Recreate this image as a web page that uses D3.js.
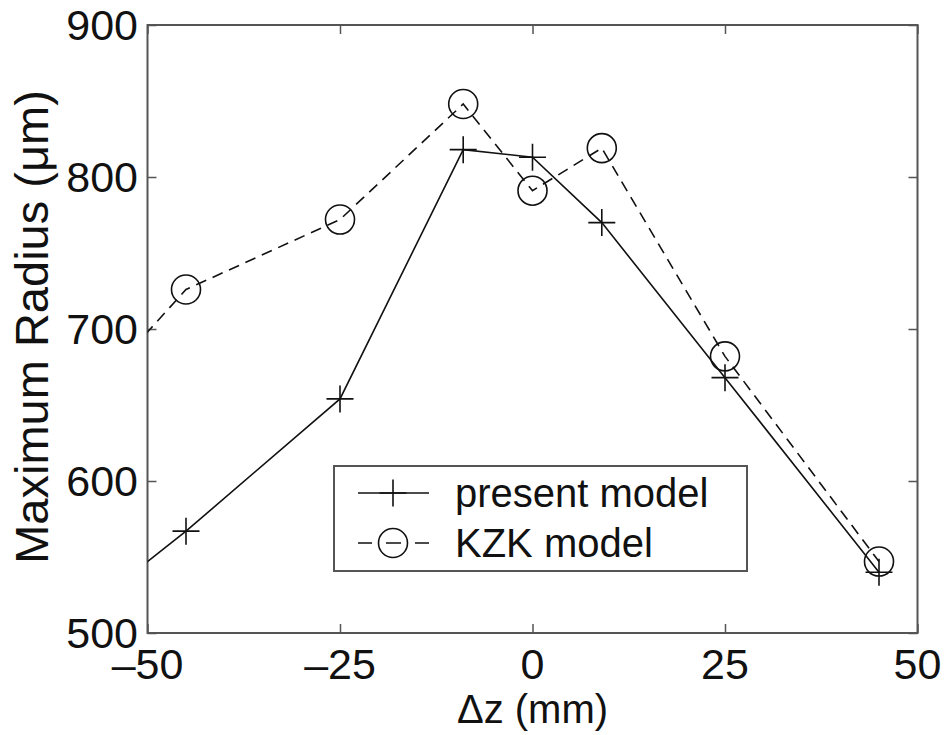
<!DOCTYPE html>
<html>
<head>
<meta charset="utf-8">
<script src="https://cdn.jsdelivr.net/npm/d3@7"></script>
<style>
  body { margin: 0; background: #fff; }
  text { font-family: "Liberation Sans", Arial, Helvetica, sans-serif; fill: #111; }
</style>
</head>
<body>
<div id="d3-container"></div>
<script>
/* CONSTANTS AND GLOBALS */
const width = 948,
  height = 735,
  margin = { top: 25, bottom: 102, left: 147.5, right: 30.5 };

// data (first point sits just outside the axes and gets clipped)
const dz = [-55, -45, -25, -9, 0, 9, 25, 45];
const presentModel = [527, 567, 654, 818, 813, 770, 668, 540];
const kzkModel = [670, 726, 772, 848, 791, 819, 682, 547];
const xTicks = [-50, -25, 0, 25, 50];
const yTicks = [500, 600, 700, 800, 900];
const seriesNames = ["present model", "KZK model"];

const xScale = d3.scaleLinear()
  .domain([-50, 50])
  .range([margin.left, width - margin.right]);

const yScale = d3.scaleLinear()
  .domain([500, 900])
  .range([height - margin.bottom, margin.top]);

const svg = d3.select("#d3-container")
  .append("svg")
  .attr("width", width)
  .attr("height", height);

svg.append("clipPath")
  .attr("id", "plot-clip")
  .append("rect")
  .attr("x", margin.left)
  .attr("y", margin.top)
  .attr("width", width - margin.left - margin.right)
  .attr("height", height - margin.top - margin.bottom);

// axes: ticks point inward, mirrored on the opposite side like matlab
const tickLen = 9;
const axisColor = "#555";

svg.append("g")
  .attr("transform", `translate(0, ${height - margin.bottom})`)
  .call(d3.axisTop(xScale).tickValues(xTicks).tickSize(tickLen).tickFormat(""))
  .call(g => g.select(".domain").remove())
  .call(g => g.selectAll("line").attr("stroke", axisColor).attr("stroke-width", 1.5));

svg.append("g")
  .attr("transform", `translate(0, ${margin.top})`)
  .call(d3.axisBottom(xScale).tickValues(xTicks).tickSize(tickLen).tickFormat(""))
  .call(g => g.select(".domain").remove())
  .call(g => g.selectAll("line").attr("stroke", axisColor).attr("stroke-width", 1.5));

svg.append("g")
  .attr("transform", `translate(${margin.left}, 0)`)
  .call(d3.axisRight(yScale).tickValues(yTicks).tickSize(tickLen).tickFormat(""))
  .call(g => g.select(".domain").remove())
  .call(g => g.selectAll("line").attr("stroke", axisColor).attr("stroke-width", 1.5));

svg.append("g")
  .attr("transform", `translate(${width - margin.right}, 0)`)
  .call(d3.axisLeft(yScale).tickValues(yTicks).tickSize(tickLen).tickFormat(""))
  .call(g => g.select(".domain").remove())
  .call(g => g.selectAll("line").attr("stroke", axisColor).attr("stroke-width", 1.5));

// box
svg.append("rect")
  .attr("x", margin.left)
  .attr("y", margin.top)
  .attr("width", width - margin.left - margin.right)
  .attr("height", height - margin.top - margin.bottom)
  .attr("fill", "none")
  .attr("stroke", axisColor)
  .attr("stroke-width", 2);

// tick labels
svg.selectAll(".xlabel")
  .data(xTicks)
  .join("text")
  .attr("class", "xlabel")
  .attr("x", d => xScale(d))
  .attr("y", 679)
  .attr("text-anchor", "middle")
  .attr("font-size", 43)
  .text(d => d < 0 ? "\u2013" + Math.abs(d) : d);

svg.selectAll(".ylabel")
  .data(yTicks)
  .join("text")
  .attr("class", "ylabel")
  .attr("x", 138)
  .attr("y", d => yScale(d) + 15)
  .attr("text-anchor", "end")
  .attr("font-size", 43)
  .text(d => d);

// axis titles
svg.append("text")
  .attr("x", xScale(0))
  .attr("y", 723)
  .attr("text-anchor", "middle")
  .attr("font-size", 40)
  .text("\u0394z (mm)");

svg.append("text")
  .attr("transform", `translate(48, ${yScale(700) - 2}) rotate(-90)`)
  .attr("text-anchor", "middle")
  .attr("font-size", 47)
  .text("Maximum Radius (\u03bcm)");

// lines
const line = d3.line()
  .x((d, i) => xScale(dz[i]))
  .y(d => yScale(d));

const plot = svg.append("g").attr("clip-path", "url(#plot-clip)");
const ink = "#111";

plot.append("path")
  .attr("d", line(kzkModel))
  .attr("fill", "none")
  .attr("stroke", ink)
  .attr("stroke-width", 1.6)
  .attr("stroke-dasharray", "11,7");

plot.append("path")
  .attr("d", line(presentModel))
  .attr("fill", "none")
  .attr("stroke", ink)
  .attr("stroke-width", 1.6);

// markers
const arm = 13.5, rad = 14.5;

function plusPath(x, y) {
  return `M${x - arm},${y}H${x + arm}M${x},${y - arm}V${y + arm}`;
}

plot.selectAll(".plus")
  .data(presentModel)
  .join("path")
  .attr("class", "plus")
  .attr("d", (d, i) => plusPath(xScale(dz[i]), yScale(d)))
  .attr("stroke", ink)
  .attr("stroke-width", 1.6)
  .attr("fill", "none");

plot.selectAll(".circ")
  .data(kzkModel)
  .join("circle")
  .attr("class", "circ")
  .attr("cx", (d, i) => xScale(dz[i]))
  .attr("cy", d => yScale(d))
  .attr("r", rad)
  .attr("stroke", ink)
  .attr("stroke-width", 1.6)
  .attr("fill", "none");

// legend
const legend = svg.append("g");
legend.append("rect")
  .attr("x", 334)
  .attr("y", 466)
  .attr("width", 413)
  .attr("height", 105)
  .attr("fill", "#fff")
  .attr("stroke", axisColor)
  .attr("stroke-width", 2);

const rows = [493, 543];
// present model sample
legend.append("line")
  .attr("x1", 358).attr("x2", 429)
  .attr("y1", rows[0]).attr("y2", rows[0])
  .attr("stroke", ink).attr("stroke-width", 1.6);
legend.append("path")
  .attr("d", plusPath(393, rows[0]))
  .attr("stroke", ink).attr("stroke-width", 1.6);
// KZK sample
legend.append("line")
  .attr("x1", 358).attr("x2", 429)
  .attr("y1", rows[1]).attr("y2", rows[1])
  .attr("stroke", ink).attr("stroke-width", 1.6)
  .attr("stroke-dasharray", "14,14,15,14,14");
legend.append("circle")
  .attr("cx", 393).attr("cy", rows[1]).attr("r", rad)
  .attr("stroke", ink).attr("stroke-width", 1.6).attr("fill", "none");

legend.selectAll(".legtext")
  .data(seriesNames)
  .join("text")
  .attr("class", "legtext")
  .attr("x", 455)
  .attr("y", (d, i) => rows[i] + 14)
  .attr("font-size", 40)
  .text(d => d);
</script>
</body>
</html>
